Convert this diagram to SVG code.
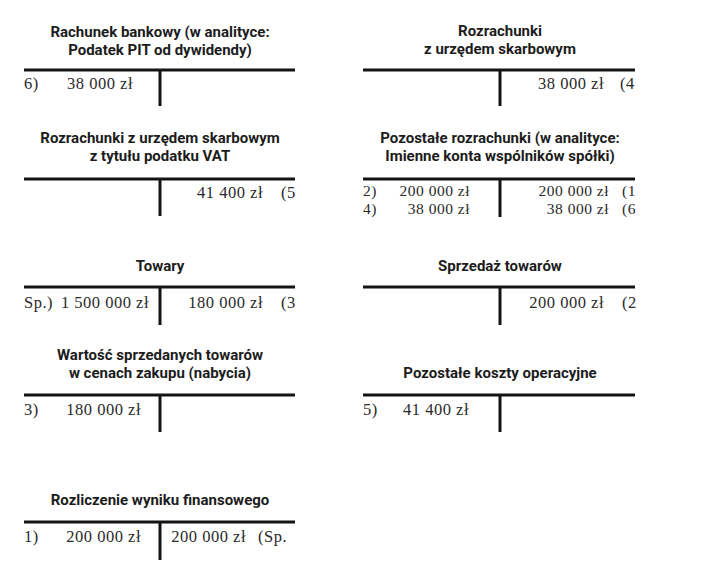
<svg xmlns="http://www.w3.org/2000/svg" width="720" height="577" viewBox="0 0 720 577">
<style>
.t{font-family:Roboto,"Liberation Sans",sans-serif;font-weight:700;font-size:15px;fill:#1c1c1c;text-anchor:middle}
.e{font-family:"Liberation Serif","DejaVu Serif",serif;font-size:16.5px;fill:#2a2a2a;letter-spacing:0.5px}
.s{font-size:15.5px}
.r{text-anchor:end}
.ln{stroke:#141414;stroke-width:3;fill:none}
</style>
<rect width="720" height="577" fill="#fff"/>
<g id="connectors">
<path class="ln" d="M24 70H295M160 70V106"/>
<path class="ln" d="M363 70H635M500 70V106"/>
<path class="ln" d="M24 179H295M160 179V216"/>
<path class="ln" d="M363 179H635M500 179V217"/>
<path class="ln" d="M24 287H295M160 287V325"/>
<path class="ln" d="M363 287H635M500 287V325"/>
<path class="ln" d="M24 395H295M160 395V432"/>
<path class="ln" d="M363 395H635M500 395V432"/>
<path class="ln" d="M24 522H295M160 522V560"/>
</g>
<g id="rachunek-bankowy">
<text class="t" x="160" y="37">Rachunek bankowy (w analityce:</text>
<text class="t" x="160" y="55">Podatek PIT od dywidendy)</text>
<text class="e" x="24" y="89">6)</text>
<text class="e r" x="133" y="89">38 000 zł</text>
</g>
<g id="rozrachunki-us">
<text class="t" x="500" y="36">Rozrachunki</text>
<text class="t" x="500" y="54">z urzędem skarbowym</text>
<text class="e r" x="604" y="89">38 000 zł</text>
<text class="e" x="620" y="89">(4</text>
</g>
<g id="rozrachunki-vat">
<text class="t" x="160" y="143">Rozrachunki z urzędem skarbowym</text>
<text class="t" x="160" y="161">z tytułu podatku VAT</text>
<text class="e r" x="263" y="198">41 400 zł</text>
<text class="e" x="281" y="198">(5</text>
</g>
<g id="pozostale-rozrachunki">
<text class="t" x="500" y="143">Pozostałe rozrachunki (w analityce:</text>
<text class="t" x="500" y="161">Imienne konta wspólników spółki)</text>
<text class="e s" x="363" y="196">2)</text>
<text class="e s r" x="470" y="196">200 000 zł</text>
<text class="e s" x="363" y="214">4)</text>
<text class="e s r" x="470" y="214">38 000 zł</text>
<text class="e s r" x="609" y="196">200 000 zł</text>
<text class="e s" x="622" y="196">(1</text>
<text class="e s r" x="609" y="214">38 000 zł</text>
<text class="e s" x="622" y="214">(6</text>
</g>
<g id="towary">
<text class="t" x="160" y="271">Towary</text>
<text class="e" x="24" y="308">Sp.)</text>
<text class="e r" x="149" y="308">1 500 000 zł</text>
<text class="e r" x="263" y="308">180 000 zł</text>
<text class="e" x="281" y="308">(3</text>
</g>
<g id="sprzedaz-towarow">
<text class="t" x="500" y="271">Sprzedaż towarów</text>
<text class="e r" x="604" y="308">200 000 zł</text>
<text class="e" x="622" y="308">(2</text>
</g>
<g id="wartosc-sprzedanych">
<text class="t" x="160" y="360">Wartość sprzedanych towarów</text>
<text class="t" x="160" y="378">w cenach zakupu (nabycia)</text>
<text class="e" x="24" y="415">3)</text>
<text class="e r" x="141" y="415">180 000 zł</text>
</g>
<g id="pozostale-koszty">
<text class="t" x="500" y="378">Pozostałe koszty operacyjne</text>
<text class="e" x="363" y="415">5)</text>
<text class="e r" x="469" y="415">41 400 zł</text>
</g>
<g id="rozliczenie-wyniku">
<text class="t" x="160" y="505">Rozliczenie wyniku finansowego</text>
<text class="e" x="24" y="542">1)</text>
<text class="e r" x="141" y="542">200 000 zł</text>
<text class="e r" x="246" y="542">200 000 zł</text>
<text class="e" x="258" y="542">(Sp.</text>
</g>
</svg>
